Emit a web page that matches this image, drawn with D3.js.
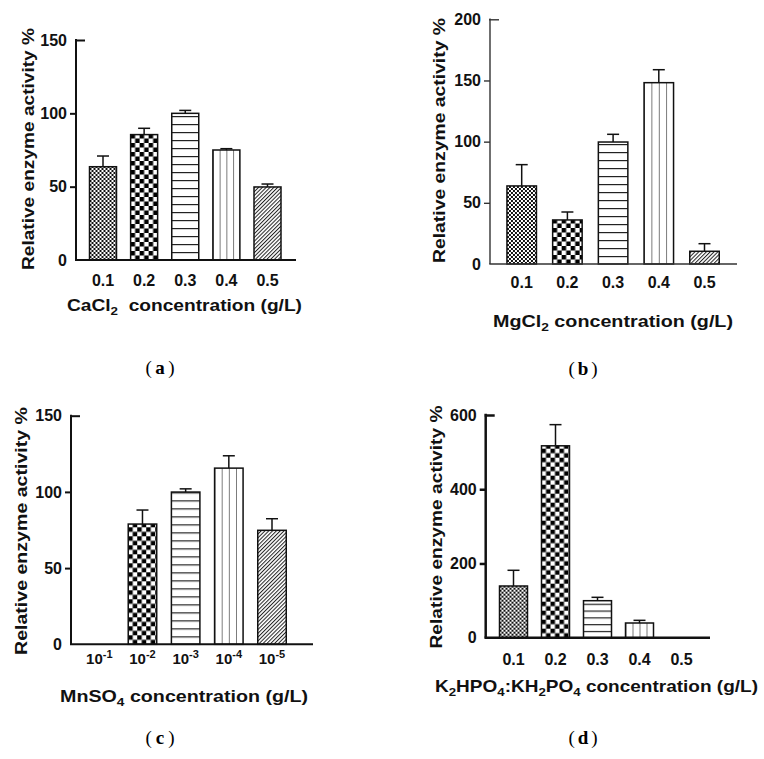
<!DOCTYPE html>
<html><head><meta charset="utf-8">
<script src="https://cdn.jsdelivr.net/npm/d3@7/dist/d3.min.js"></script>
<style>body{margin:0;background:#fff}svg{display:block}</style>
</head><body>
<svg id="chart" width="764" height="759"></svg>
<script>
// ---------- data ----------
const catsA = ["0.1", "0.2", "0.3", "0.4", "0.5"];
const valsA = [63.6, 85.5, 100, 75, 49.8];
const errA  = [7.3, 4.3, 2.0, 0.9, 2.0];
const ticksA = [0, 50, 100, 150];

const catsB = ["0.1", "0.2", "0.3", "0.4", "0.5"];
const valsB = [63.8, 36, 99.7, 148.2, 10.4];
const errB  = [17.4, 6.5, 6.3, 10.6, 6.2];
const ticksB = [0, 50, 100, 150, 200];

const catsC = ["-1", "-2", "-3", "-4", "-5"];   // exponents: 10^-1 ... 10^-5
const valsC = [0, 78.9, 99.9, 115.6, 74.8];
const errC  = [0, 9.2, 2.1, 8.1, 7.6];
const ticksC = [0, 50, 100, 150];

const catsD = ["0.1", "0.2", "0.3", "0.4", "0.5"];
const valsD = [139.3, 517, 99.7, 39.6, 0];
const errD  = [42.3, 57, 9.1, 7.2, 0];
const ticksD = [0, 200, 400, 600];

const yLabel = "Relative enzyme activity %";
const titleA = [["CaCl", 0], ["2", 1], ["\u00a0 concentration (g/L)", 0]];
const titleB = [["MgCl", 0], ["2", 1], [" concentration (g/L)", 0]];
const titleC = [["MnSO", 0], ["4", 1], [" concentration (g/L)", 0]];
const titleD = [["K", 0], ["2", 1], ["HPO", 0], ["4", 1], [":KH", 0], ["2", 1], ["PO", 0], ["4", 1], [" concentration (g/L)", 0]];

// ---------- drawing ----------
const svg = d3.select("#chart");
const defs = svg.append("defs");
const SANS = "'Liberation Sans', Arial, Helvetica, sans-serif";

function makePattern(id, kind, x, y, bw, hp) {
  const p = defs.append("pattern").attr("id", id).attr("patternUnits", "userSpaceOnUse");
  if (kind === 0) { // fine checker
    p.attr("width", 4).attr("height", 4).attr("patternTransform", `translate(${x},${y})`);
    p.append("rect").attr("width", 4).attr("height", 4).attr("fill", "#fff");
    p.append("rect").attr("width", 2).attr("height", 2).attr("fill", "#111");
    p.append("rect").attr("x", 2).attr("y", 2).attr("width", 2).attr("height", 2).attr("fill", "#111");
  } else if (kind === 1) { // coarse checker
    const s = 4.5;
    p.attr("width", 2 * s).attr("height", 2 * s).attr("patternTransform", `translate(${x},${y})`);
    p.append("rect").attr("width", 2 * s).attr("height", 2 * s).attr("fill", "#fff");
    p.append("rect").attr("width", s).attr("height", s).attr("fill", "#000");
    p.append("rect").attr("x", s).attr("y", s).attr("width", s).attr("height", s).attr("fill", "#000");
  } else if (kind === 2) { // horizontal lines
    p.attr("width", 10).attr("height", hp).attr("patternTransform", `translate(${x},${y})`);
    p.append("rect").attr("width", 10).attr("height", hp).attr("fill", "#fff");
    p.append("rect").attr("y", 0).attr("width", 10).attr("height", 1.2).attr("fill", "#222");
  } else if (kind === 3) { // vertical lines dividing into 4
    const w = bw / 4;
    p.attr("width", w).attr("height", 10).attr("patternTransform", `translate(${x},${y})`);
    p.append("rect").attr("width", w).attr("height", 10).attr("fill", "#fff");
    p.append("rect").attr("x", -0.6).attr("width", 1.2).attr("height", 10).attr("fill", "#222");
  } else { // diagonal hatch
    const w = 2.7;
    p.attr("width", w).attr("height", 10).attr("patternTransform", `translate(${x},${y}) rotate(45)`);
    p.append("rect").attr("width", w).attr("height", 10).attr("fill", "#fff");
    p.append("rect").attr("width", 1).attr("height", 10).attr("fill", "#222");
  }
}

function drawPanel(cfg, cats, vals, errs, ticks, title) {
  const g = svg.append("g");
  const y = d3.scaleLinear().domain([0, cfg.yMax]).range([cfg.y0, cfg.yTop]);
  const x = d3.scalePoint().domain(cats).range([cfg.firstC, cfg.lastC]);
  const bw = cfg.bw;

  // bars
  cats.forEach((c, i) => {
    if (vals[i] <= 0) return;
    const bx = x(c) - bw / 2;
    const id = `p_${cfg.name}_${i}`;
    makePattern(id, i, bx, cfg.y0, bw, cfg.hp);
    // error bar (upper only)
    const top = y(vals[i] + errs[i]);
    g.append("line").attr("x1", x(c)).attr("x2", x(c)).attr("y1", y(vals[i])).attr("y2", top)
      .attr("stroke", "#111").attr("stroke-width", 1.5);
    g.append("line").attr("x1", x(c) - 6).attr("x2", x(c) + 6).attr("y1", top).attr("y2", top)
      .attr("stroke", "#111").attr("stroke-width", 1.5);
    g.append("rect").attr("x", bx).attr("y", y(vals[i])).attr("width", bw)
      .attr("height", cfg.y0 - y(vals[i]))
      .attr("fill", `url(#${id})`).attr("stroke", "#111").attr("stroke-width", 1.5);
  });

  // y axis
  const ax = g.append("g").attr("transform", `translate(${cfg.x0},0)`)
    .call(d3.axisLeft(y).tickValues(ticks).tickSize(6).tickSizeOuter(0).tickPadding(3));
  ax.select(".domain").remove();
  ax.selectAll(".tick line").attr("stroke", cfg.axisColor).attr("stroke-width", cfg.axisW);
  ax.selectAll(".tick").filter(d => d === 0).select("line").remove();
  ax.selectAll(".tick").filter(d => d === cfg.yMax).select("line").attr("x1", -1).attr("x2", 9);
  ax.selectAll(".tick text").attr("font-family", SANS).attr("font-weight", "bold")
    .attr("font-size", 16).attr("fill", "#111");
  g.append("line").attr("x1", cfg.x0).attr("x2", cfg.x0).attr("y1", cfg.yTop - cfg.axisW / 2).attr("y2", cfg.y0)
    .attr("stroke", cfg.axisColor).attr("stroke-width", cfg.axisW);
  // x axis line
  g.append("line").attr("x1", cfg.x0 - cfg.axisW / 2).attr("x2", cfg.xEnd).attr("y1", cfg.y0).attr("y2", cfg.y0)
    .attr("stroke", cfg.axisColor).attr("stroke-width", cfg.axisW);

  // x tick labels
  cats.forEach(c => {
    const t = g.append("text").attr("x", x(c)).attr("y", cfg.tickY).attr("text-anchor", "middle")
      .attr("font-family", SANS).attr("font-weight", "bold").attr("fill", "#111");
    if (cfg.pow) {
      t.attr("font-size", 15);
      t.append("tspan").text("10");
      t.append("tspan").attr("font-size", 11).attr("dy", -6).text(c);
    } else {
      t.attr("font-size", 16).text(c);
    }
  });

  // x title
  const tt = g.append("text").attr("x", cfg.titleX).attr("y", cfg.titleY).attr("text-anchor", "middle")
    .attr("font-family", SANS).attr("font-weight", "bold").attr("font-size", 16.5).attr("fill", "#111")
    .attr("textLength", cfg.titleLen).attr("lengthAdjust", "spacingAndGlyphs");
  let prevSub = 0;
  title.forEach(([s, sub]) => {
    const sp = tt.append("tspan").text(s);
    const dy = (sub ? 4 : 0) - (prevSub ? 4 : 0);
    if (dy) sp.attr("dy", dy);
    if (sub) sp.attr("font-size", 11.5);
    prevSub = sub;
  });

  // y label
  g.append("text").attr("transform", `translate(${cfg.ylX},${cfg.ylY}) rotate(-90)`)
    .attr("text-anchor", "middle").attr("font-family", SANS).attr("font-weight", "bold")
    .attr("font-size", 16.5).attr("fill", "#111")
    .attr("textLength", cfg.ylLen).attr("lengthAdjust", "spacingAndGlyphs").text(yLabel);

  // caption
  const cap = g.append("text").attr("x", cfg.capX).attr("y", cfg.capY).attr("text-anchor", "middle")
    .attr("font-family", "'Liberation Serif', 'Times New Roman', serif").attr("font-size", 19).attr("fill", "#000")
    .attr("textLength", 29).attr("lengthAdjust", "spacing");
  cap.append("tspan").text("(");
  cap.append("tspan").attr("font-weight", "bold").text(cfg.name);
  cap.append("tspan").text(")");
}

drawPanel({name: "a", x0: 76, y0: 260, yTop: 40, yMax: 150, firstC: 103, lastC: 267.5, bw: 27, xEnd: 296,
  axisW: 2, axisColor: "#111", tickY: 286, hp: 8, titleX: 184.5, titleY: 311, titleLen: 235,
  ylX: 33.5, ylY: 149, ylLen: 242, capX: 160, capY: 374}, catsA, valsA, errA, ticksA, titleA);

drawPanel({name: "b", x0: 490, y0: 264, yTop: 19.3, yMax: 200, firstC: 521.7, lastC: 704.5, bw: 29.5, xEnd: 737,
  axisW: 1.4, axisColor: "#333", tickY: 287.5, hp: 8, titleX: 613, titleY: 327, titleLen: 240,
  ylX: 445, ylY: 140.5, ylLen: 245, capX: 583, capY: 375}, catsB, valsB, errB, ticksB, titleB);

drawPanel({name: "c", x0: 71, y0: 644.3, yTop: 415.7, yMax: 150, firstC: 99.3, lastC: 272, bw: 28.5, xEnd: 313,
  axisW: 2, axisColor: "#111", tickY: 664, hp: 8, pow: true, titleX: 184, titleY: 701.5, titleLen: 248,
  ylX: 26.7, ylY: 531, ylLen: 248, capX: 160, capY: 744}, catsC, valsC, errC, ticksC, titleC);

drawPanel({name: "d", x0: 485.7, y0: 637.7, yTop: 415, yMax: 600, firstC: 513.5, lastC: 681.5, bw: 28, xEnd: 710,
  axisW: 2.5, axisColor: "#111", tickY: 665, hp: 6.8, titleX: 596.5, titleY: 692, titleLen: 323,
  ylX: 442, ylY: 527, ylLen: 243, capX: 583, capY: 744}, catsD, valsD, errD, ticksD, titleD);
</script>
</body></html>
